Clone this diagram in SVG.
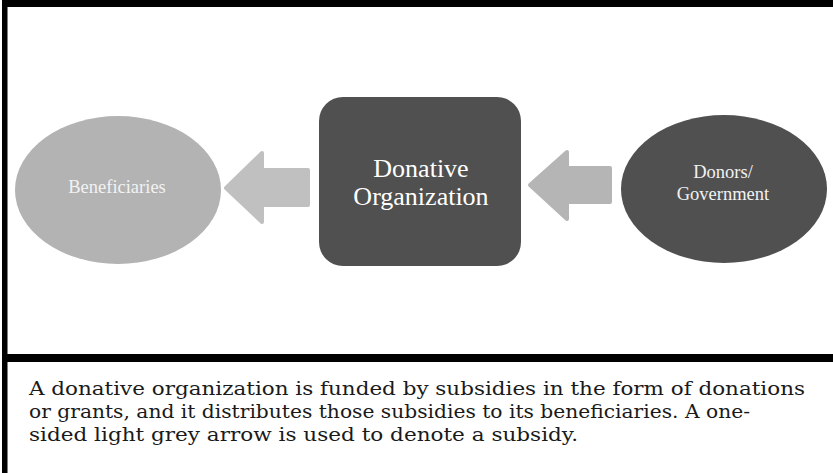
<svg xmlns="http://www.w3.org/2000/svg" width="833" height="473" viewBox="0 0 833 473">
<style>
.node-label{font-family:"Liberation Serif","Times New Roman",serif;text-anchor:middle}
.caption{font-family:"DejaVu Serif","Liberation Serif",serif;font-size:19px;fill:#1a1a1a}
.arrow{stroke-linejoin:round;stroke-width:4}
</style>
<rect x="0" y="0" width="833" height="473" fill="#ffffff"/>
<g id="frame">
<rect x="2" y="0" width="831" height="7" fill="#000"/>
<rect x="2" y="0" width="5.5" height="473" fill="#000"/>
<rect x="2" y="354" width="831" height="8" fill="#000"/>
</g>
<g id="connectors">
<path class="arrow" d="M226,188 L262,153 L262,170 L308,170 L308,205 L262,205 L262,222 Z" fill="#c0c0c0" stroke="#c0c0c0"/>
<path class="arrow" d="M530,185 L567,152 L567,168 L610,168 L610,202 L567,202 L567,219 Z" fill="#b5b5b5" stroke="#b5b5b5"/>
</g>
<g id="beneficiaries">
<ellipse cx="118" cy="190" rx="103" ry="74" fill="#b3b3b3"/>
<text class="node-label" x="117" y="193" font-size="18.5" fill="#f2f2f2">Beneficiaries</text>
</g>
<g id="donative-organization">
<rect x="319" y="97" width="202" height="169" rx="24" fill="#505050"/>
<text class="node-label" x="421" y="177" font-size="26" fill="#ffffff">Donative</text>
<text class="node-label" x="421" y="205" font-size="26" fill="#ffffff">Organization</text>
</g>
<g id="donors-government">
<ellipse cx="724" cy="189" rx="103" ry="74" fill="#505050"/>
<text class="node-label" x="723" y="178" font-size="18.5" fill="#f2f2f2">Donors/</text>
<text class="node-label" x="723" y="200" font-size="18.5" fill="#f2f2f2">Government</text>
</g>
<g id="caption">
<text class="caption" x="29" y="395" textLength="776" lengthAdjust="spacingAndGlyphs">A donative organization is funded by subsidies in the form of donations</text>
<text class="caption" x="29" y="418" textLength="721" lengthAdjust="spacingAndGlyphs">or grants, and it distributes those subsidies to its beneficiaries. A one-</text>
<text class="caption" x="29" y="441" textLength="549" lengthAdjust="spacingAndGlyphs">sided light grey arrow is used to denote a subsidy.</text>
</g>
</svg>
